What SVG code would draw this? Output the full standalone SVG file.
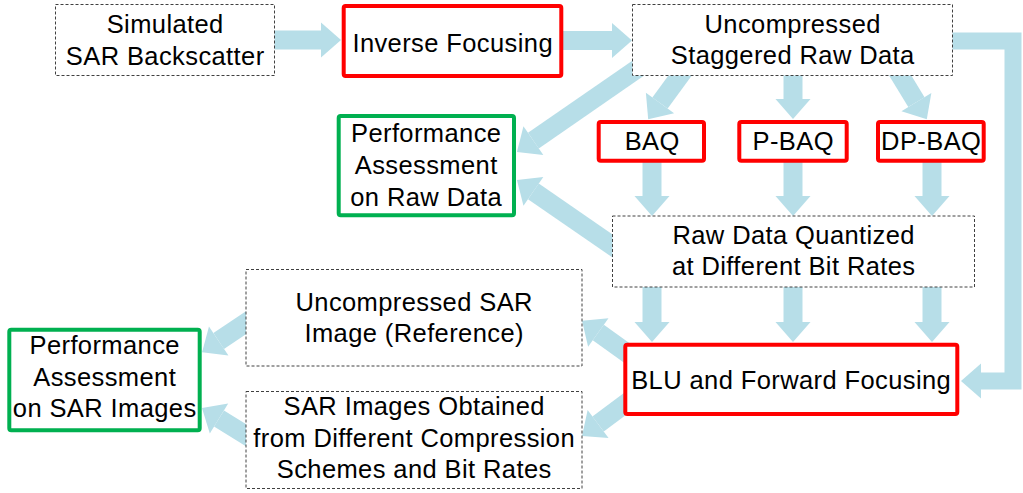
<svg xmlns="http://www.w3.org/2000/svg" width="1023" height="493" viewBox="0 0 1023 493">
<style>
.bg{fill:#ffffff}
.dash{fill:#ffffff;stroke:#404040;stroke-width:1;stroke-dasharray:3,2}
.red{fill:#ffffff;stroke:#ff0000;stroke-width:4}
.grn{fill:#ffffff;stroke:#00b050;stroke-width:4}
.t{font-family:"Liberation Sans",Arial,sans-serif;font-size:25.5px;letter-spacing:0.4px;fill:#000000;text-anchor:middle}
.arr{fill:none;stroke:#b7dee8;stroke-width:19;marker-end:url(#ah)}
.arr2{fill:none;stroke:#b7dee8;stroke-width:17;stroke-linejoin:miter;marker-end:url(#ah)}
</style>
<defs>
<marker id="ah" markerUnits="userSpaceOnUse" viewBox="-1 -19 23 38" markerWidth="23" markerHeight="38" refX="0" refY="0" orient="auto">
<path d="M0,-17.5 L20,0 L0,17.5 Z" fill="#b7dee8"/>
</marker>
</defs>
<rect class="bg" x="0" y="0" width="1023" height="493"/>
<g id="connectors">
<line class="arr" x1="270" y1="40" x2="321" y2="40"/>
<line class="arr" x1="560" y1="40.5" x2="612" y2="40.5"/>
<line class="arr" x1="690" y1="62" x2="660" y2="103"/>
<line class="arr" x1="793" y1="70" x2="793" y2="99"/>
<line class="arr" x1="892" y1="62" x2="916.4" y2="102.1"/>
<line class="arr" x1="650" y1="60" x2="533.4" y2="140.6"/>
<line class="arr" x1="630" y1="258" x2="533.4" y2="191.4"/>
<line class="arr" x1="652" y1="158" x2="652" y2="196"/>
<line class="arr" x1="793" y1="158" x2="793" y2="196"/>
<line class="arr" x1="932" y1="158" x2="932" y2="196"/>
<line class="arr" x1="652" y1="280" x2="652" y2="322"/>
<line class="arr" x1="793" y1="280" x2="793" y2="322"/>
<line class="arr" x1="932" y1="280" x2="932" y2="322"/>
<polyline class="arr2" points="945,41 1013,41 1013,381 981,381"/>
<line class="arr" x1="645" y1="366" x2="598.3" y2="332.5"/>
<line class="arr" x1="645" y1="389" x2="598.1" y2="424"/>
<line class="arr" x1="262" y1="312" x2="218.7" y2="341"/>
<line class="arr" x1="262" y1="445" x2="219" y2="418.5"/>
</g>
<g id="n_simulated">
<rect class="dash" x="55.5" y="4.5" width="219" height="71"/>
<text class="t" x="165.2" y="33">Simulated</text>
<text class="t" x="165.2" y="65">SAR Backscatter</text>
</g>
<g id="n_inverse">
<rect class="red" x="343.7" y="6" width="217.6" height="70" rx="2"/>
<text class="t" x="452.7" y="52">Inverse Focusing</text>
</g>
<g id="n_uncompressed_raw">
<rect class="dash" x="632.5" y="4.5" width="320" height="71"/>
<text class="t" x="792.7" y="33">Uncompressed</text>
<text class="t" x="792.7" y="64">Staggered Raw Data</text>
</g>
<g id="n_baq">
<rect class="red" x="598.7" y="122" width="105.3" height="38.7" rx="2"/>
<text class="t" x="652.2" y="150">BAQ</text>
</g>
<g id="n_pbaq">
<rect class="red" x="739.3" y="122" width="107.4" height="38.7" rx="2"/>
<text class="t" x="793.2" y="150">P-BAQ</text>
</g>
<g id="n_dpbaq">
<rect class="red" x="878" y="122" width="105.7" height="38.7" rx="2"/>
<text class="t" x="931.2" y="150">DP-BAQ</text>
</g>
<g id="n_perf_raw">
<rect class="grn" x="338.7" y="116" width="175.3" height="99.3" rx="2"/>
<text class="t" x="426.2" y="141.5">Performance</text>
<text class="t" x="426.2" y="173.5">Assessment</text>
<text class="t" x="426.2" y="205.5">on Raw Data</text>
</g>
<g id="n_raw_quantized">
<rect class="dash" x="612.5" y="216" width="362" height="71"/>
<text class="t" x="793.7" y="244">Raw Data Quantized</text>
<text class="t" x="793.7" y="275">at Different Bit Rates</text>
</g>
<g id="n_blu">
<rect class="red" x="625.3" y="344.7" width="332" height="69.3" rx="2"/>
<text class="t" x="791.2" y="389">BLU and Forward Focusing</text>
</g>
<g id="n_unc_sar">
<rect class="dash" x="246" y="269.5" width="336" height="96.5"/>
<text class="t" x="414.2" y="310.5">Uncompressed SAR</text>
<text class="t" x="414.2" y="341.5">Image (Reference)</text>
</g>
<g id="n_sar_images">
<rect class="dash" x="246" y="391.5" width="336" height="97"/>
<text class="t" x="414.2" y="415">SAR Images Obtained</text>
<text class="t" x="414.2" y="446.5">from Different Compression</text>
<text class="t" x="414.2" y="477.5">Schemes and Bit Rates</text>
</g>
<g id="n_perf_sar">
<rect class="grn" x="9.3" y="329.7" width="190.4" height="100.6" rx="2"/>
<text class="t" x="104.7" y="354">Performance</text>
<text class="t" x="104.7" y="386">Assessment</text>
<text class="t" x="104.7" y="417">on SAR Images</text>
</g>
</svg>
